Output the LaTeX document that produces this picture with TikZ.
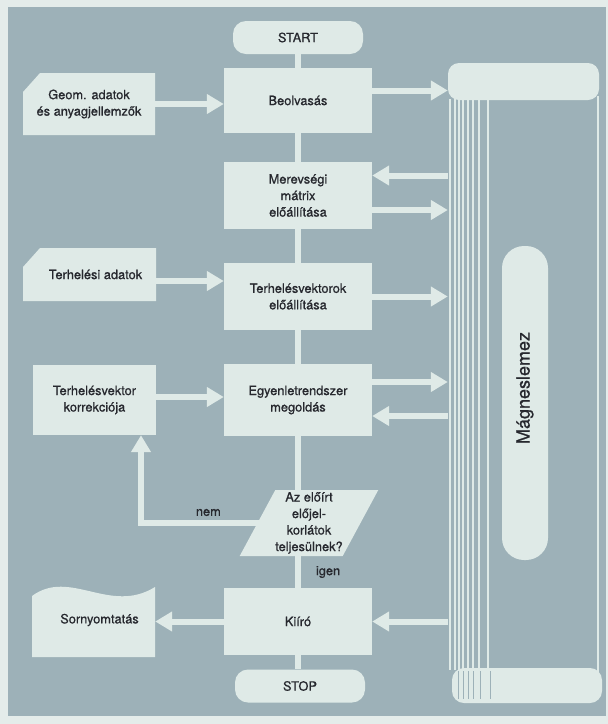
\documentclass[tikz,border=0pt]{standalone}
\usepackage{fontspec}
\setmainfont{TeX Gyre Heros}[FakeBold=0.8]
\usepackage{tikz}
\usetikzlibrary{arrows.meta,shapes.geometric}
\definecolor{sheet}{HTML}{E4ECEA}
\definecolor{panel}{HTML}{9DB1B8}
\definecolor{paper}{HTML}{DFEAE7}
\definecolor{ink}{HTML}{26282E}

\begin{document}
\begin{tikzpicture}[
      x=1pt, y=-1pt,
      font=\fontsize{12.8}{16.5}\selectfont,
      text=ink,
      terminal/.style={fill=paper, rounded corners=13pt, inner sep=0pt,
                       minimum width=130pt, minimum height=33pt},
      process/.style={fill=paper, inner sep=0pt, align=center,
                      minimum width=148pt},
      card/.style={fill=panel, inner sep=0pt, align=center,
                   path picture={\fill[paper]
                     (path picture bounding box.south west) --
                     (path picture bounding box.south east) --
                     (path picture bounding box.north east) --
                     ([xshift=17pt]path picture bounding box.north west) --
                     ([yshift=-19pt]path picture bounding box.north west) -- cycle;}},
      printout/.style={fill=panel, inner sep=0pt, align=center,
                       path picture={\fill[paper]
                         (path picture bounding box.south west) --
                         ([yshift=-13pt]path picture bounding box.north west)
                         .. controls ([shift={(38pt,15pt)}]path picture bounding box.north west)
                         and ([shift={(78pt,-32pt)}]path picture bounding box.north west)
                         .. ([yshift=-4pt]path picture bounding box.north east) --
                         (path picture bounding box.south east) -- cycle;}},
      decide/.style={trapezium, trapezium left angle=60, trapezium right angle=120,
                     trapezium stretches body, fill=paper, inner sep=0pt, align=center,
                     minimum width=132pt, minimum height=66pt},
      pill/.style={fill=paper, rounded corners=22pt, rotate=90, inner sep=0pt,
                   minimum width=314pt, minimum height=46pt,
                   font=\fontsize{18}{20}\selectfont},
      flow/.style={draw=paper, line width=6pt},
      arrow/.style={flow, -{Triangle[length=17pt, width=19pt]}},
      lbl/.style={inner sep=1pt}
    ]

    \useasboundingbox (0,0) rectangle (608,724);
    \fill[sheet] (0,0) rectangle (608,724);
    \fill[panel] (8,7) rectangle (606,716);

    \node[terminal] (start) at (298,37.5) {START};
    \node[process, minimum height=65pt] (beol) at (298,100.5) {Beolvasás};
    \node[process, minimum height=67pt] (merev) at (298,195.5)
      {Merevségi\\mátrix\\előállítása};
    \node[process, minimum height=67pt] (tvekt) at (298,296.5)
      {Terhelésvektorok\\előállítása};
    \node[process, minimum height=72pt] (egy) at (298,400)
      {Egyenletrendszer\\megoldás};
    \node[decide] (cond) at (309,523)
      {Az előírt\\előjel-\\korlátok\\teljesülnek?};
    \node[process, minimum height=67pt] (kiiro) at (298,621.5) {Kiíró};
    \node[terminal] (stop) at (300,686) {STOP};

    \node[card, minimum width=132pt, minimum height=62pt] (geom) at (89,104)
      {Geom. adatok\\és anyagjellemzők};
    \node[card, minimum width=133pt, minimum height=53pt] (terh) at (89.5,274.5)
      {\hspace*{12pt}Terhelési adatok};
    \node[process, minimum width=123pt, minimum height=70pt] (korr) at (94.5,400)
      {Terhelésvektor\\korrekciója};
    \node[printout, minimum width=123pt, minimum height=74pt] (print) at (93.5,620)
      {\hspace*{12pt}Sornyomtatás};

    \node[inner sep=0pt, minimum width=153pt, minimum height=640pt] (disk) at (524.5,383) {};
    \fill[paper, rounded corners=11pt] (448,63) rectangle (599,100);
    \draw[paper, line width=1.6pt] (598,96) -- (598,672);
    \draw[paper, line width=2.4pt] (450,99) -- (450,670);
    \foreach \px in {455,459,463,468,473,479,488}
      \draw[paper, line width=1.1pt] (\px,99) -- (\px,670);
    \fill[paper, rounded corners=12pt] (452,668) rectangle (602,703);
    \foreach \px in {458,463,468,473,480,490}
      \draw[panel, line width=0.9pt] (\px,671) -- (\px,699);
    \node[pill] (mlabel) at (525,403) {\hspace*{30pt}Mágneslemez};

    \draw[flow] (start.south) -- (beol.north);
    \draw[flow] (beol.south) -- (merev.north);
    \draw[flow] (merev.south) -- (tvekt.north);
    \draw[flow] (tvekt.south) -- (egy.north);
    \draw[flow] (egy.south) -- (egy.south |- cond.north);
    \draw[flow] (kiiro.north |- cond.south) -- node[lbl, right=14pt] {igen} (kiiro.north);
    \draw[flow] (kiiro.south) -- (kiiro.south |- stop.north);

    \coordinate (b1) at ([yshift=10pt]beol.east);
    \coordinate (m1) at ([yshift=20pt]merev.east);
    \coordinate (m2) at ([yshift=-14.5pt]merev.east);
    \coordinate (t1) at ([yshift=-6.5pt]terh.east);
    \coordinate (k1) at ([yshift=3pt]korr.east);
    \coordinate (e1) at ([yshift=18pt]egy.east);
    \coordinate (e2) at ([yshift=-16pt]egy.east);
    \coordinate (n1) at ([xshift=46.5pt]korr.south);

    \draw[arrow] (geom.east) -- (geom.east -| beol.west);
    \draw[arrow] (b1) -- (b1 -| disk.west);
    \draw[arrow] (m1 -| disk.west) -- (m1);
    \draw[arrow] (m2) -- (m2 -| disk.west);
    \draw[arrow] (t1) -- (t1 -| tvekt.west);
    \draw[arrow] (tvekt.east) -- (tvekt.east -| disk.west);
    \draw[arrow] (k1) -- (k1 -| egy.west);
    \draw[arrow] (e1) -- (e1 -| disk.west);
    \draw[arrow] (e2 -| disk.west) -- (e2);
    \draw[arrow] ([xshift=4pt]cond.west) -| node[lbl, pos=0.22, above=3pt] {nem} (n1);
    \draw[arrow] (kiiro.east -| disk.west) -- (kiiro.east);
    \draw[arrow] (kiiro.west) -- (kiiro.west -| print.east);

  \end{tikzpicture}
\end{document}
